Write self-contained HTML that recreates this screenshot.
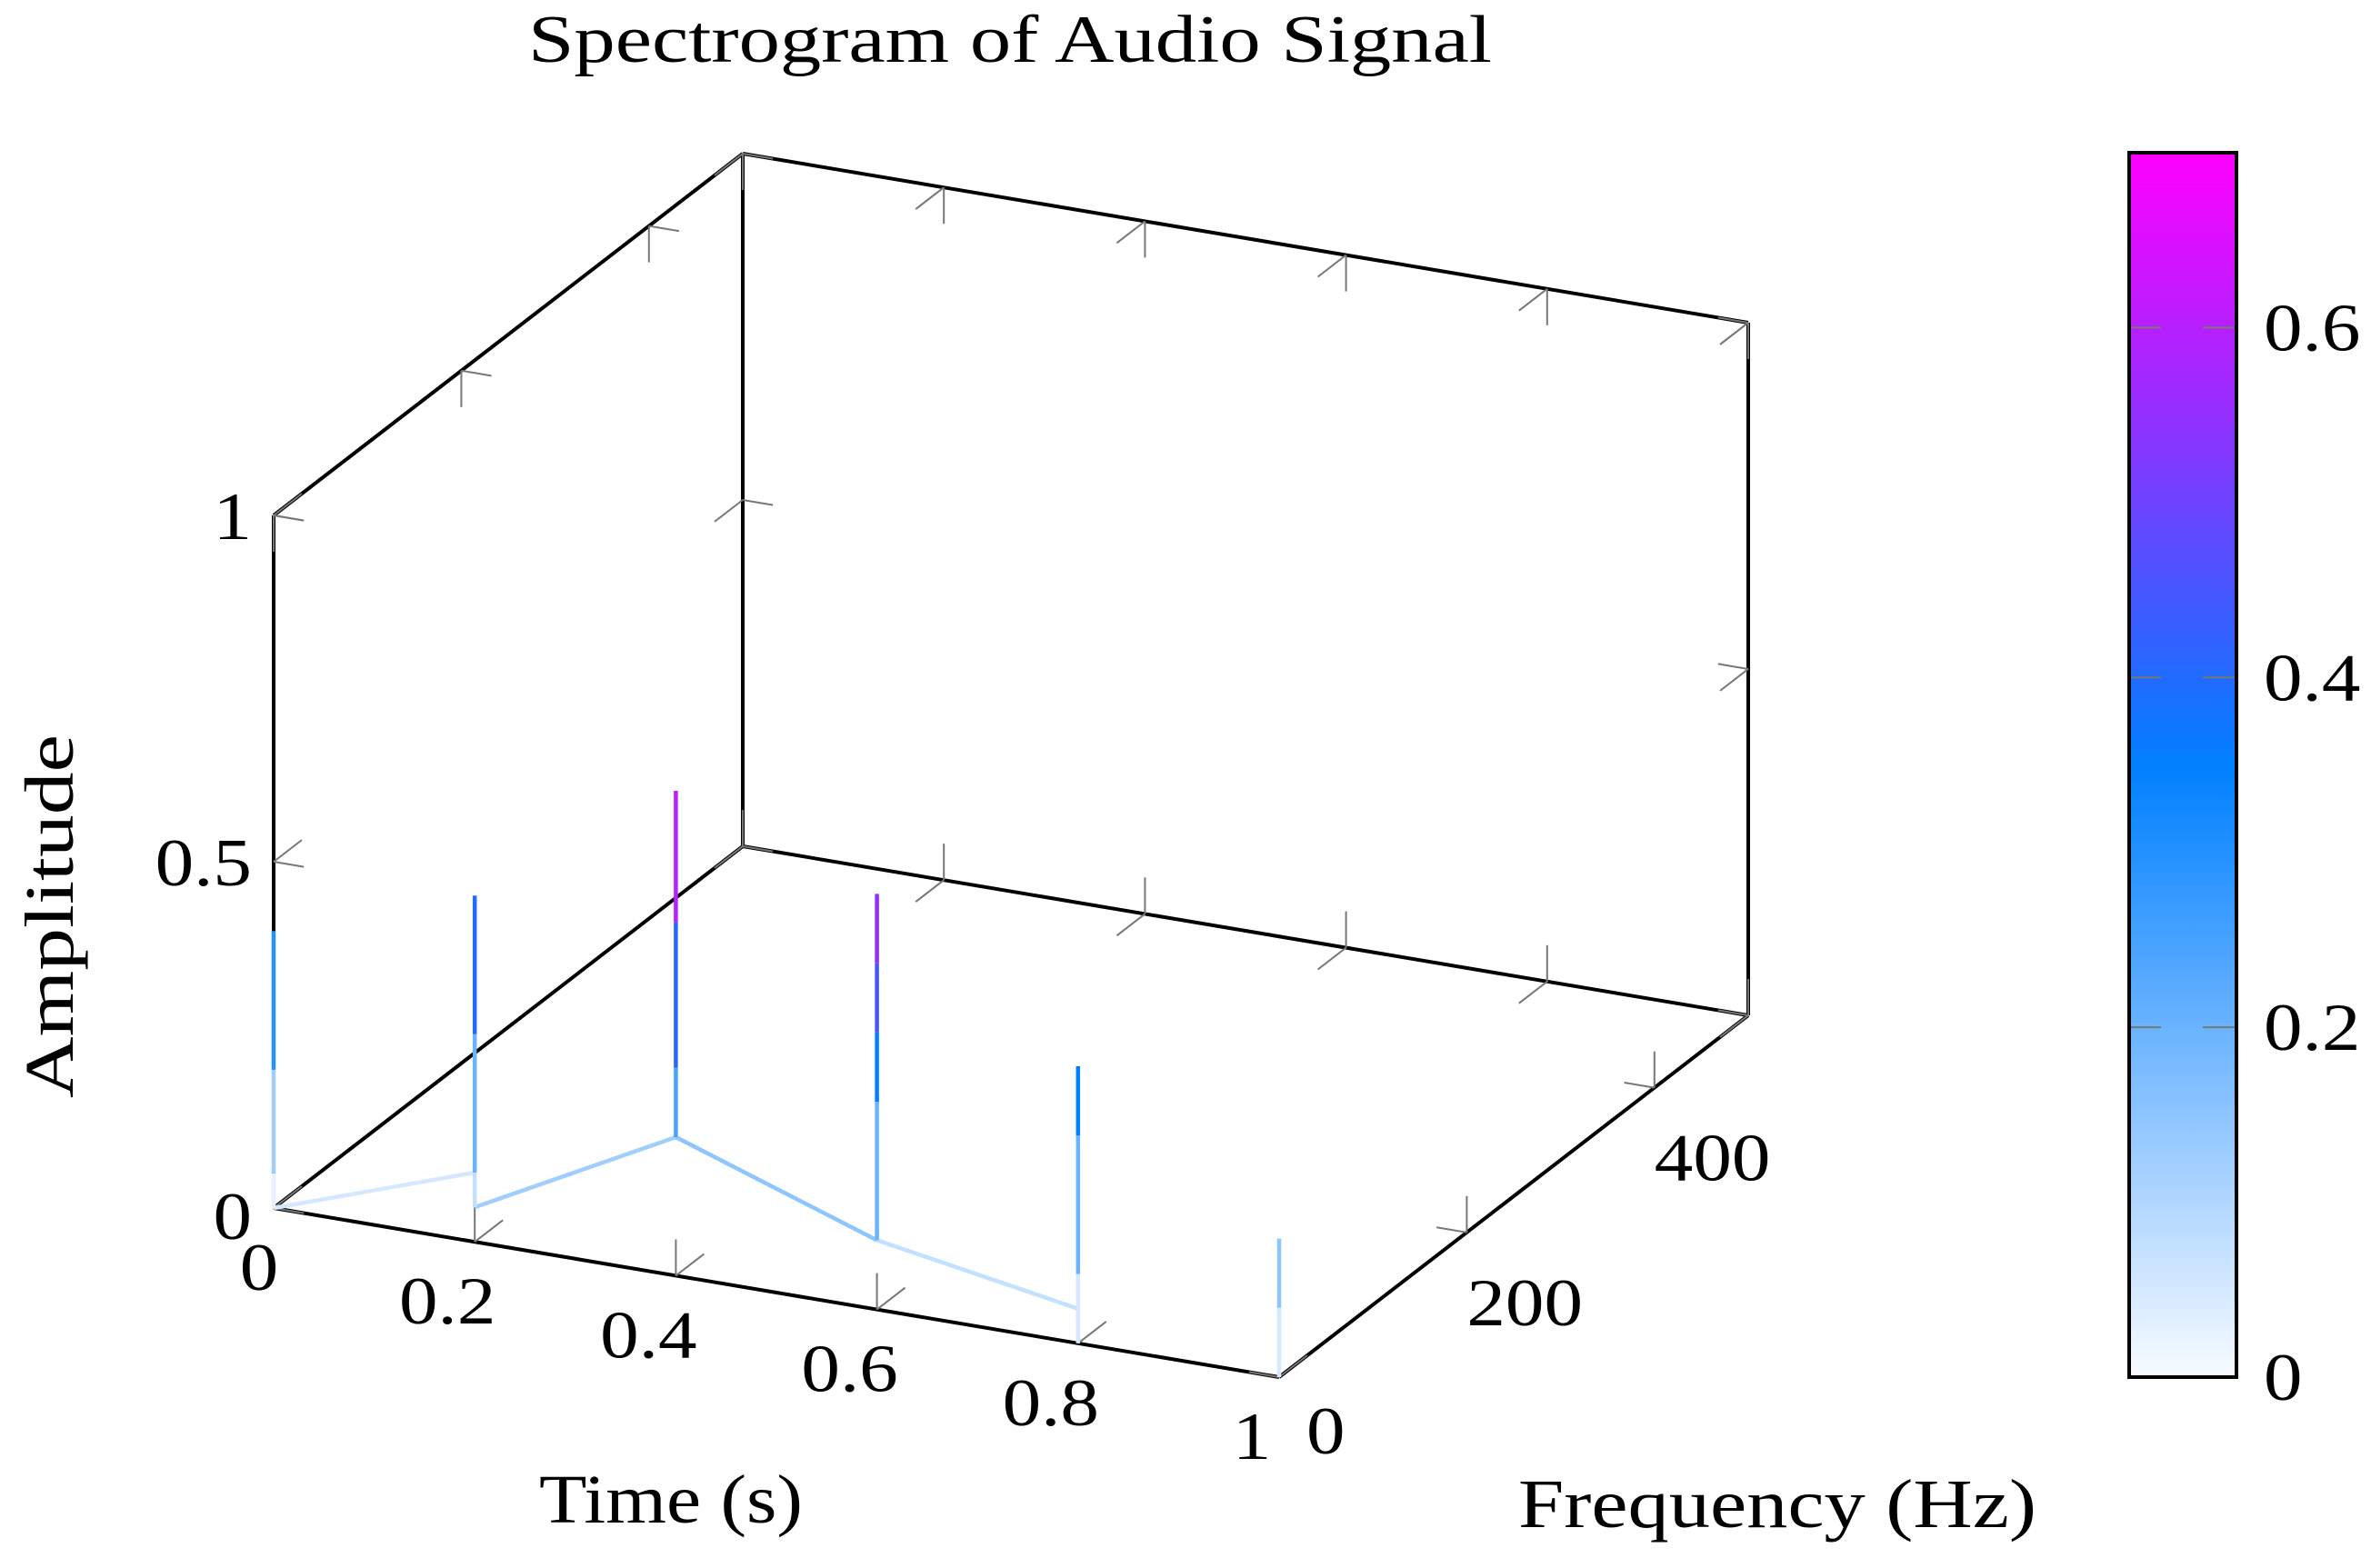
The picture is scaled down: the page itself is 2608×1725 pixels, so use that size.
<!DOCTYPE html>
<html><head><meta charset="utf-8"><style>
html,body{margin:0;padding:0;background:#fff;}
svg{display:block;font-family:"Liberation Serif",serif;}
</style></head><body>
<svg id="chart" width="2608" height="1725" viewBox="0 0 2608 1725" xmlns="http://www.w3.org/2000/svg">
<defs>
<linearGradient id="cmap" x1="0" y1="1" x2="0" y2="0">
<stop offset="0" stop-color="#f8fbff"/>
<stop offset="0.28" stop-color="#6cb4ff"/>
<stop offset="0.5" stop-color="#0080ff"/>
<stop offset="0.62" stop-color="#3a5cff"/>
<stop offset="0.78" stop-color="#9030ff"/>
<stop offset="1" stop-color="#ff00ff"/>
</linearGradient>
</defs>
<text x="1111" y="68" font-size="74" text-anchor="middle" textLength="1060" lengthAdjust="spacingAndGlyphs">Spectrogram of Audio Signal</text>
<g id="box"></g>
<g id="ticks"></g>
<g id="marks"></g>
<g id="labels"></g>
<text x="738" y="1675" font-size="76" text-anchor="middle" textLength="290" lengthAdjust="spacingAndGlyphs">Time (s)</text>
<text x="1955" y="1680" font-size="76" text-anchor="middle" textLength="570" lengthAdjust="spacingAndGlyphs">Frequency (Hz)</text>
<text transform="translate(80,1008) rotate(-90)" font-size="76" text-anchor="middle" textLength="400" lengthAdjust="spacingAndGlyphs">Amplitude</text>
<rect x="2342" y="168" width="118" height="1347" fill="url(#cmap)" stroke="#000" stroke-width="4"/>
<g id="cbar"></g>
</svg>
<script>
const times=[0,0.2,0.4,0.6,0.8,1.0];
const stickZ=[[0,0.05,0.2,0.4],[0.05,0.1,0.3,0.5],[0.2,0.3,0.51,0.7],[0.1,0.3,0.4,0.5,0.6],[0,0.1,0.3,0.4],[0,0.1,0.2]];
const linkFromT=[0,0.2,0.4,0.6];
const linkFromZ=[0,0.05,0.2,0.1];
const linkToT=[0.2,0.4,0.6,0.8];
const linkToZ=[0.1,0.2,0.1,0.05];
const timeTicks=[0,0.2,0.4,0.6,0.8,1];
const timeTickLabels=["0","0.2","0.4","0.6","0.8","1"];
const freqTicks=[0,200,400];
const freqTickLabels=["0","200","400"];
const ampTicks=[0,0.5,1];
const ampTickLabels=["0","0.5","1"];
const cbarTicks=[0,0.2,0.4,0.6];
const cbarTickLabels=["0","0.2","0.4","0.6"];
const FMAX=500, CMAX=0.7;
const NS="http://www.w3.org/2000/svg";
const O=[301,1329],T=[1106,186],F=[516,-398],Z=[0,-762];
function P(t,f,z){const u=f/FMAX;return [O[0]+t*T[0]+u*F[0]+z*Z[0],O[1]+t*T[1]+u*F[1]+z*Z[1]];}
function line(g,a,b,col,w,name){const l=document.createElementNS(NS,'line');
l.setAttribute('x1',a[0]);l.setAttribute('y1',a[1]);l.setAttribute('x2',b[0]);l.setAttribute('y2',b[1]);
l.setAttribute('stroke',col);l.setAttribute('stroke-width',w);l.setAttribute('stroke-linecap','butt');


g.appendChild(l);return l;}
function txt(g,x,y,s,anchor,name){const e=document.createElementNS(NS,'text');
e.setAttribute('x',x);e.setAttribute('y',y);e.setAttribute('font-size','74');e.setAttribute('text-anchor',anchor);e.textContent=s;


g.appendChild(e);
const w=e.getComputedTextLength();
if(w>0){e.setAttribute('textLength',(w*1.15).toFixed(1));e.setAttribute('lengthAdjust','spacingAndGlyphs');}
}
const stops=[[0,[248,251,255]],[0.28,[108,180,255]],[0.5,[0,128,255]],[0.62,[58,92,255]],[0.78,[144,48,255]],[1,[255,0,255]]];
function cmap(v){let s=Math.max(0,Math.min(1,v/CMAX));for(let i=1;i<stops.length;i++){if(s<=stops[i][0]){const a=stops[i-1],b=stops[i];const k=(s-a[0])/(b[0]-a[0]);
const c=a[1].map((x,j)=>Math.round(x+(b[1][j]-x)*k));return `rgb(${c})`;}}return 'rgb(255,0,255)';}
const box=document.getElementById('box');
const edges=[[[0,0,0],[1,0,0]],[[1,0,0],[1,FMAX,0]],[[0,0,0],[0,FMAX,0]],[[0,FMAX,0],[1,FMAX,0]],[[0,0,0],[0,0,1]],[[0,FMAX,0],[0,FMAX,1]],[[1,FMAX,0],[1,FMAX,1]],[[0,0,1],[0,FMAX,1]],[[0,FMAX,1],[1,FMAX,1]]];
edges.forEach(e=>line(box,P(...e[0]),P(...e[1]),'#000',4,'box-edge'));
const tk=document.getElementById('ticks');const G='#777';
function tick(p,d1,d2){const a=P(...p);const b1=[a[0]+d1[0],a[1]+d1[1]],b2=[a[0]+d2[0],a[1]+d2[1]];line(tk,a,b1,G,2,'tick-mark');line(tk,a,b2,G,2,'tick-mark');}
timeTicks.forEach(t=>{tick([t,0,0],[0,-40],[F[0]*0.06,F[1]*0.06]);tick([t,FMAX,0],[0,-40],[-F[0]*0.06,-F[1]*0.06]);tick([t,FMAX,1],[0,40],[-F[0]*0.06,-F[1]*0.06]);});
freqTicks.forEach(f=>{tick([1,f,0],[-T[0]*0.03,-T[1]*0.03],[0,-40]);tick([0,f,1],[T[0]*0.03,T[1]*0.03],[0,40]);});
ampTicks.forEach(z=>{tick([0,0,z],[T[0]*0.03,T[1]*0.03],[F[0]*0.06,F[1]*0.06]);tick([0,FMAX,z],[T[0]*0.03,T[1]*0.03],[-F[0]*0.06,-F[1]*0.06]);tick([1,FMAX,z],[-T[0]*0.03,-T[1]*0.03],[-F[0]*0.06,-F[1]*0.06]);});
const mk=document.getElementById('marks');
for(let i=0;i<linkFromT.length;i++){const a=P(linkFromT[i],0,linkFromZ[i]),b=P(linkToT[i],0,linkToZ[i]);
line(mk,a,b,cmap((linkFromZ[i]+linkToZ[i])/2),4.5,'mesh-link');}
times.forEach((t,i)=>{const zs=stickZ[i];for(let j=0;j<zs.length-1;j++){
line(mk,P(t,0,zs[j]),P(t,0,zs[j+1]),cmap((zs[j]+zs[j+1])/2),4.5,'amplitude-stick');}});
const lb=document.getElementById('labels');
timeTicks.forEach((t,i)=>{const p=P(t,0,0);txt(lb,p[0]-16+(i==0?0:-14),p[1]+90,timeTickLabels[i],'middle','time-tick-label');});
freqTicks.forEach((f,i)=>{const p=P(1,f,0);txt(lb,p[0]+(i==0?30:0),p[1]+(i==0?84:102),freqTickLabels[i],'start','freq-tick-label');});
ampTicks.forEach((z,i)=>{const p=P(0,0,z);txt(lb,p[0]-24,p[1]+26+(i==0?8:0),ampTickLabels[i],'end','amp-tick-label');});
const cb=document.getElementById('cbar');
cbarTicks.forEach((v,i)=>{const y=1515-v/CMAX*1347;
if(v>0){line(cb,[2344,y],[2377,y],'#777',2,'colorbar-tick');line(cb,[2423,y],[2458,y],'#777',2,'colorbar-tick');}
txt(cb,2490,y+25,cbarTickLabels[i],'start','colorbar-label');});
</script>
</body></html>
